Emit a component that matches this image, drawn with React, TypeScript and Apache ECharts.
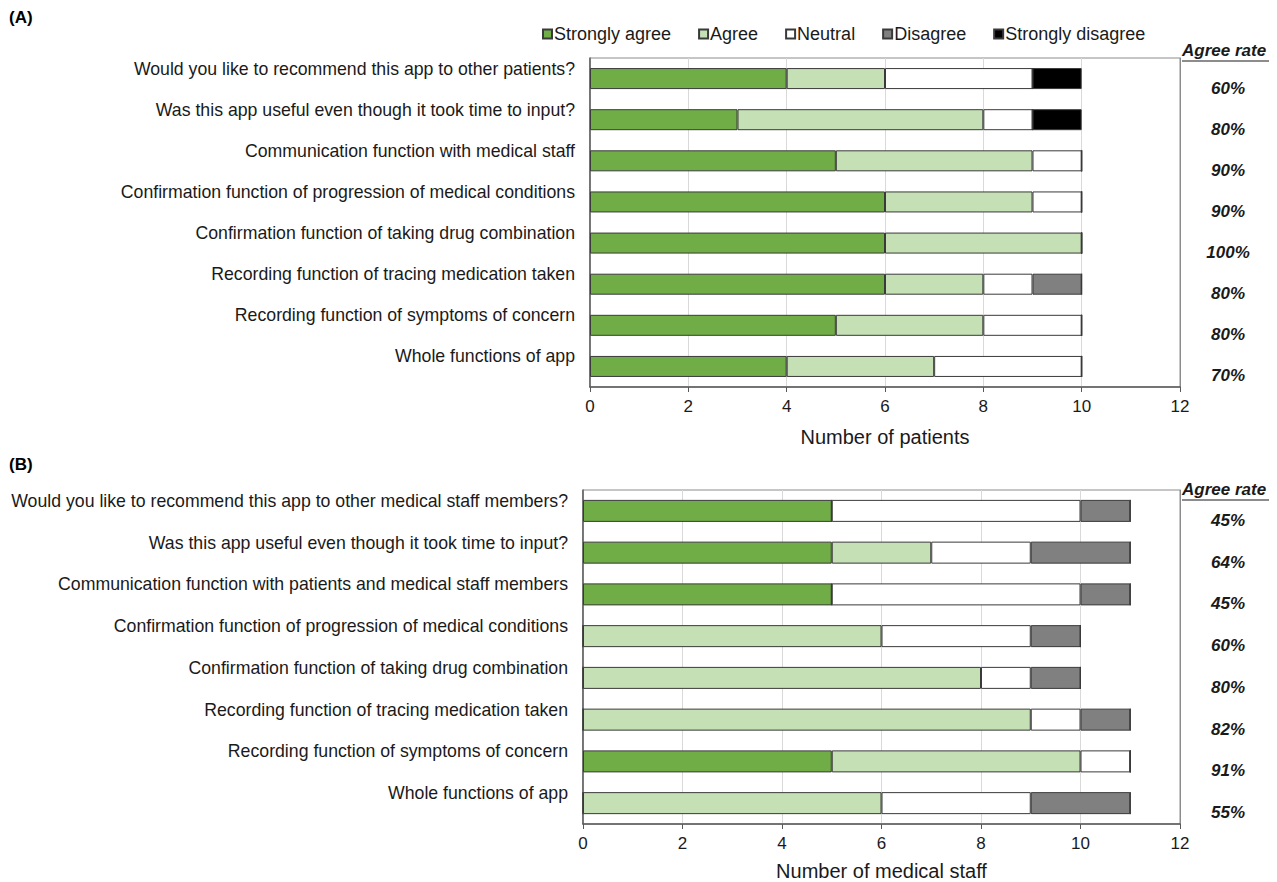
import React, { useEffect, useRef } from "react";
import * as echarts from "echarts";

const seriesNames = ["Strongly agree", "Agree", "Neutral", "Disagree", "Strongly disagree"];
const seriesColors = ["#70AD47", "#C5E0B4", "#FFFFFF", "#808080", "#000000"];

const catsA = [
  "Would you like to recommend this app to other patients?",
  "Was this app useful even though it took time to input?",
  "Communication function with medical staff",
  "Confirmation function of progression of medical conditions",
  "Confirmation function of taking drug combination",
  "Recording function of tracing medication taken",
  "Recording function of symptoms of concern",
  "Whole functions of app",
];
const stronglyAgreeA = [4, 3, 5, 6, 6, 6, 5, 4];
const agreeA = [2, 5, 4, 3, 4, 2, 3, 3];
const neutralA = [3, 1, 1, 1, 0, 1, 2, 3];
const disagreeA = [0, 0, 0, 0, 0, 1, 0, 0];
const stronglyDisagreeA = [1, 1, 0, 0, 0, 0, 0, 0];
const ratesA = ["60%", "80%", "90%", "90%", "100%", "80%", "80%", "70%"];

const catsB = [
  "Would you like to recommend this app to other medical staff members?",
  "Was this app useful even though it took time to input?",
  "Communication function with patients and medical staff members",
  "Confirmation function of progression of medical conditions",
  "Confirmation function of taking drug combination",
  "Recording function of tracing medication taken",
  "Recording function of symptoms of concern",
  "Whole functions of app",
];
const stronglyAgreeB = [5, 5, 5, 0, 0, 0, 5, 0];
const agreeB = [0, 2, 0, 6, 8, 9, 5, 6];
const neutralB = [5, 2, 5, 3, 1, 1, 1, 3];
const disagreeB = [1, 2, 1, 1, 1, 1, 0, 2];
const stronglyDisagreeB = [0, 0, 0, 0, 0, 0, 0, 0];
const ratesB = ["45%", "64%", "45%", "60%", "80%", "82%", "91%", "55%"];

const xTicks = [0, 2, 4, 6, 8, 10, 12];
const xNameA = "Number of patients";
const xNameB = "Number of medical staff";

const FONT = "'Liberation Sans', Arial, sans-serif";
const TXT = "#1a1a1a";

export default function App() {
  const ref = useRef<HTMLDivElement>(null);
  useEffect(() => {
    if (!ref.current) return;
    const chart = echarts.init(ref.current, null, { renderer: "svg" });
    const dataA = [stronglyAgreeA, agreeA, neutralA, disagreeA, stronglyDisagreeA];
    const dataB = [stronglyAgreeB, agreeB, neutralB, disagreeB, stronglyDisagreeB];

    const grids = [
      { left: 590, right: 97, top: 58, height: 329, show: true, borderColor: "#8c8c8c", borderWidth: 1, backgroundColor: "transparent" },
      { left: 583, right: 97, top: 490, height: 335, show: true, borderColor: "#8c8c8c", borderWidth: 1, backgroundColor: "transparent" },
    ];

    const mkX = (gi: number, name: string, gap: number) => ({
      type: "value",
      gridIndex: gi,
      min: xTicks[0],
      max: xTicks[xTicks.length - 1],
      interval: xTicks[1] - xTicks[0],
      name,
      nameLocation: "middle",
      nameGap: gap,
      nameTextStyle: { fontFamily: FONT, fontSize: 20, color: TXT },
      axisLine: { show: true, lineStyle: { color: "#595959", width: 1.5 } },
      axisTick: { show: true, length: 5, lineStyle: { color: "#595959" } },
      axisLabel: { fontFamily: FONT, fontSize: 17, color: TXT, margin: 11 },
      splitLine: { show: true, lineStyle: { color: "#d9d9d9", width: 1 } },
    });

    const mkYLeft = (gi: number, cats: string[]) => ({
      type: "category",
      gridIndex: gi,
      data: cats,
      inverse: true,
      position: "left",
      axisLine: { show: true, lineStyle: { color: "#595959", width: 1.5 } },
      axisTick: { show: false },
      axisLabel: {
        fontFamily: FONT,
        fontSize: 17.7,
        color: TXT,
        margin: 15,
        verticalAlign: "bottom",
        padding: [0, 0, 1, 0],
      },
    });

    const mkYRight = (gi: number, rates: string[]) => ({
      type: "category",
      gridIndex: gi,
      data: rates,
      inverse: true,
      position: "right",
      axisLine: { show: true, lineStyle: { color: "#8c8c8c", width: 1 } },
      axisTick: { show: false },
      axisLabel: {
        fontFamily: FONT,
        fontSize: 17,
        fontWeight: "bold",
        fontStyle: "italic",
        color: TXT,
        margin: 48,
        align: "center",
        verticalAlign: "top",
        padding: [1, 0, 0, 0],
      },
    });

    const series: any[] = [];
    [dataA, dataB].forEach((d, gi) => {
      d.forEach((vals, si) => {
        series.push({
          type: "bar",
          name: seriesNames[si],
          stack: "s" + gi,
          xAxisIndex: gi,
          yAxisIndex: gi * 2,
          data: vals,
          barWidth: gi === 0 ? 21 : 22,
          itemStyle: { color: seriesColors[si], borderColor: "#3a3a3a", borderWidth: 1 },
          emphasis: { disabled: true },
        });
      });
    });

    const headerText = (y: number) => [
      {
        type: "text",
        left: 1182,
        top: y - 9,
        style: { text: "Agree rate", fontFamily: FONT, fontSize: 17, fontWeight: "bold", fontStyle: "italic", fill: TXT },
      },
      {
        type: "line",
        shape: { x1: 1182, y1: y + 10, x2: 1269, y2: y + 10 },
        style: { stroke: TXT, lineWidth: 1.2 },
      },
    ];

    chart.setOption({
      animation: false,
      backgroundColor: "#ffffff",
      textStyle: { fontFamily: FONT },
      legend: {
        data: seriesNames,
        left: 537,
        top: 20,
        itemWidth: 9,
        itemHeight: 9,
        itemGap: 27,
        icon: "rect",
        textStyle: { fontFamily: FONT, fontSize: 18, color: TXT, padding: [0, 0, 0, -3] },
        selectedMode: false,
      },
      grid: grids,
      xAxis: [mkX(0, xNameA, 40), mkX(1, xNameB, 37)],
      yAxis: [mkYLeft(0, catsA), mkYRight(0, ratesA), mkYLeft(1, catsB), mkYRight(1, ratesB)],
      series,
      graphic: [
        { type: "text", left: 9, top: 9, style: { text: "(A)", fontFamily: FONT, fontSize: 17, fontWeight: "bold", fill: "#000" } },
        { type: "text", left: 9, top: 456, style: { text: "(B)", fontFamily: FONT, fontSize: 17, fontWeight: "bold", fill: "#000" } },
        ...headerText(51),
        ...headerText(490),
      ],
    });
    return () => chart.dispose();
  }, []);
  return <div ref={ref} style={{ position: "absolute", left: 0, top: 0, width: 1277, height: 882 }} />;
}
